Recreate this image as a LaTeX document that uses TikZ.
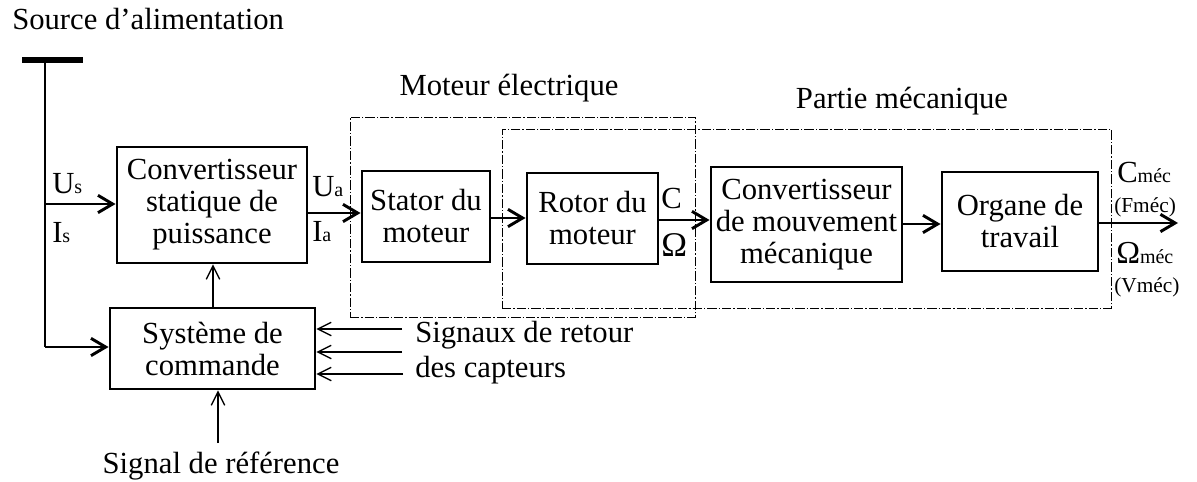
\documentclass[tikz,border=0pt]{standalone}
\usepackage{fontspec}
\setmainfont{Liberation Serif}
\usetikzlibrary{positioning, arrows.meta}

\newcommand{\indice}[1]{{\fontsize{15}{15}\selectfont #1}}
\newcommand{\petit}[1]{{\fontsize{15}{15}\selectfont #1}}

\begin{document}
\begin{tikzpicture}[x=0.75pt, y=-0.75pt,
    every node/.style={font=\fontsize{23}{24}\selectfont, inner sep=0pt},
    bloc/.style={draw, line width=2.2pt, align=center},
    zone/.style={draw, line width=0.7pt, dash pattern=on 7pt off 1.5pt on 1pt off 1.5pt},
    fleche/.style={line width=2.2pt, -{Straight Barb[length=11pt,width=13pt]}},
    fin/.style={line width=1pt, -{Straight Barb[length=10pt,width=10pt]}}]
    \useasboundingbox (0,0) rectangle (1197,482);

    % zones en pointilles
    \node[zone, minimum width=258.75pt, minimum height=150pt] (moteur) at (522.5,217) {};
    \node[zone, minimum width=456.75pt, minimum height=134.25pt] (partie) at (806.5,218.5) {};
    \node[anchor=base] (tmoteur) at (509,95) {Moteur électrique};
    \node[anchor=base] (tpartie) at (902,108) {Partie mécanique};

    % blocs
    \node[bloc, minimum width=142.5pt, minimum height=87pt] (conv) at (212,205)
      {Convertisseur\\statique de\\puissance};
    \node[bloc, minimum width=96pt, minimum height=68.25pt] (stator) at (426,216.5)
      {Stator du\\moteur};
    \node[bloc, minimum width=98.25pt, minimum height=68.25pt] (rotor) at (592.5,218.5)
      {Rotor du\\moteur};
    \node[bloc, minimum width=143.25pt, minimum height=86.25pt] (mouv) at (806.5,224.5)
      {Convertisseur\\de mouvement\\mécanique};
    \node[bloc, minimum width=117pt, minimum height=74.25pt] (organe) at (1020,221.5)
      {Organe de\\travail};
    \node[bloc, minimum width=153.75pt, minimum height=60.75pt] (cmd) at (212.5,348.5)
      {Système de\\commande};

    % source
    \node[anchor=base west] (source) at (12,29) {Source d'alimentation};
    \coordinate (barg) at (22,60);
    \coordinate (bard) at (83,60);
    \coordinate (bhaut) at (45,60);
    \coordinate (bus) at (45,204);
    \coordinate (bbas) at (45,347);
    \draw[line width=3.8pt] (barg) -- (bard);
    \draw[line width=2.2pt] (bhaut) -- (bbas);
    \draw[fleche] (bus) -- (bus -| conv.west);
    \draw[fleche] (bbas) -- (bbas -| cmd.west);
    \node[anchor=base west] (us) at (52,193) {U\indice{s}};
    \node[anchor=base west] (is) at (52,242) {I\indice{s}};

    % chaine de puissance
    \coordinate (sa) at (307,213);
    \draw[fleche] (sa) -- (sa -| stator.west);
    \node[anchor=base west] (ua) at (312,196) {U\indice{a}};
    \node[anchor=base west] (ia) at (312,241) {I\indice{a}};
    \coordinate (sb) at (490,218);
    \draw[fleche] (sb) -- (sb -| rotor.west);
    \coordinate (sc) at (658,220);
    \draw[fleche] (sc) -- (sc -| mouv.west);
    \node[anchor=base west] (couple) at (661,208) {C};
    \node[anchor=base west] (omega) at (661,256) {\fontsize{26}{26}\selectfont Ω};
    \coordinate (sd) at (902,224);
    \draw[fleche] (sd) -- (sd -| organe.west);
    \coordinate (sortie) at (1178,223);
    \draw[fleche] (organe.east |- sortie) -- (sortie);
    \node[anchor=base west] (cmec) at (1117,182) {\fontsize{23}{23}\selectfont C\petit{méc}};
    \node[anchor=base west] (fmec) at (1114,212) {\fontsize{16}{16}\selectfont (Fméc)};
    \node[anchor=base west] (wmec) at (1116,263) {\fontsize{24}{24}\selectfont Ω\petit{méc}};
    \node[anchor=base west] (vmec) at (1114,292) {\fontsize{16}{16}\selectfont (Vméc)};

    % commande
    \draw[fin] (cmd.north -| 213,0) -- (conv.south -| 213,0);
    \node[anchor=base west] (retour) at (415,342) {Signaux de retour};
    \node[anchor=base west] (capteurs) at (415,377) {des capteurs};
    \foreach \y/\x in {329/402, 352/402, 374/403} {
        \coordinate (r\y) at (\x,\y);
        \draw[fin] (r\y) -- (r\y -| cmd.east);
    }
    \node[anchor=base] (reference) at (221,473) {Signal de référence};
    \coordinate (ref) at (218,443);
    \draw[fin] (ref) -- (ref |- cmd.south);
\end{tikzpicture}
\end{document}
